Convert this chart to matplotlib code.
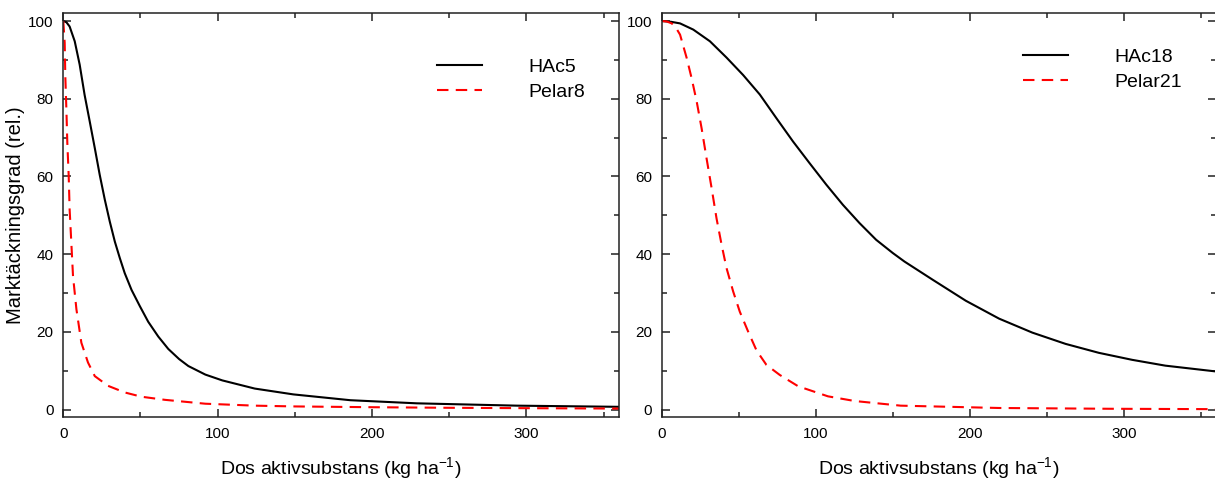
"""
Two dose-response panels: ground cover vs. active substance dose.
"""
import matplotlib
matplotlib.use("Agg")
import matplotlib.pyplot as plt
from matplotlib.ticker import MultipleLocator

plt.rcParams['font.family'] = ['Liberation Sans', 'DejaVu Sans']
plt.rcParams['mathtext.fontset'] = 'custom'
plt.rcParams['mathtext.rm'] = 'Liberation Sans'
plt.rcParams['mathtext.it'] = 'Liberation Sans'

# values
hac5_x = [0, 2, 4.1, 7.4, 10.6, 13.8, 17.1, 20.4, 23.6, 26.9, 30.1, 33.4, 36.6, 39.8,
          44.2, 49.6, 55, 61.5, 68, 75, 81, 92, 103, 124, 149, 186, 229, 294, 360]
hac5_y = [100, 99.7, 98.6, 94.8, 88.8, 81, 74.2, 67.3, 60.4, 54, 48.4, 43.2, 39, 35.1,
          30.8, 26.6, 22.6, 18.8, 15.6, 13.0, 11.2, 9.0, 7.5, 5.4, 3.9, 2.4, 1.6, 1.0, 0.7]
pelar8_x = [0, 0.9, 1.3, 2.0, 2.6, 3.5, 4.1, 5.2, 6.3, 8.5, 11.7, 16, 20.4, 29, 39.8,
            50.6, 65.8, 92, 124, 150, 200, 250, 300, 360]
pelar8_y = [100, 94.4, 85.8, 77.2, 68.7, 60.1, 51.5, 42.9, 34.3, 25.8, 17.2, 12.1, 8.6,
            6.1, 4.4, 3.3, 2.5, 1.5, 1.0, 0.8, 0.6, 0.45, 0.35, 0.25]

hac18_x = [0, 6, 11.7, 20.3, 31.1, 41.9, 52.7, 63.5, 74.3, 85.1, 95.9, 106.7, 117.5, 128.3,
           139.1, 149.9, 157.5, 175.9, 197.4, 219, 240.6, 262.2, 283.8, 305.4, 327, 360]
hac18_y = [100, 99.8, 99.4, 97.8, 94.8, 90.6, 86.1, 81.1, 75.0, 69, 63.4, 57.9, 52.7, 48,
           43.7, 40.3, 38.1, 33.4, 28.0, 23.4, 19.8, 16.9, 14.6, 12.8, 11.3, 9.8]
pelar21_x = [0, 3, 6.3, 9, 11.7, 16, 19.2, 22.5, 25.7, 28.9, 32.2, 35.4, 38.7, 41.9, 46.2,
             50.5, 55.9, 61.4, 67.8, 76.5, 88.4, 107.8, 125.1, 155, 219, 290, 360]
pelar21_y = [100, 99.9, 99.4, 98.3, 96.5, 90.5, 85.3, 79.3, 72.4, 64.7, 57, 49.2, 42.4,
             36.4, 30.4, 25.2, 20.1, 15.2, 11.5, 8.9, 6.0, 3.4, 2.2, 1.0, 0.4, 0.2, 0.1]

x_label = 'Dos aktivsubstans (kg ha$^{-1}$)'
y_label = 'Marktäckningsgrad (rel.)'

fig = plt.figure(figsize=(12.15, 4.8), dpi=100)
ax1 = fig.add_axes([0.0521, 0.1306, 0.4574, 0.8417])
ax2 = fig.add_axes([0.5449, 0.1306, 0.4560, 0.8417])

panels = [
    (ax1, hac5_x, hac5_y, 'HAc5', pelar8_x, pelar8_y, 'Pelar8', (0.6725, 0.888)),
    (ax2, hac18_x, hac18_y, 'HAc18', pelar21_x, pelar21_y, 'Pelar21', (0.6516, 0.9126)),
]

for ax, bx, by, blab, rx, ry, rlab, leg_pos in panels:
    ax.plot(bx, by, color='black', lw=1.5, label=blab)
    ax.plot(rx, ry, color='red', lw=1.5, dashes=(5.5, 3.5), label=rlab)
    ax.set_xlim(0, 360)
    ax.set_ylim(-2, 102)
    ax.xaxis.set_major_locator(MultipleLocator(100))
    ax.xaxis.set_minor_locator(MultipleLocator(50))
    ax.yaxis.set_major_locator(MultipleLocator(20))
    ax.yaxis.set_minor_locator(MultipleLocator(10))
    ax.tick_params(which='both', direction='in', top=True, right=True,
                   width=1.1, labelsize=11, color='#222222')
    ax.tick_params(which='major', length=6, pad=7)
    ax.tick_params(which='minor', length=3.5)
    for sp in ax.spines.values():
        sp.set_linewidth(1.1)
        sp.set_color('#222222')
    ax.set_xlabel(x_label, fontsize=14, labelpad=10)
    ax.legend(loc='upper left', bbox_to_anchor=leg_pos, frameon=False,
              fontsize=14, borderaxespad=0, borderpad=0, labelspacing=0.35,
              handlelength=2.3, handletextpad=2.4)

ax1.set_ylabel(y_label, fontsize=14.5, labelpad=2)

fig.savefig('out.png', dpi=100)
